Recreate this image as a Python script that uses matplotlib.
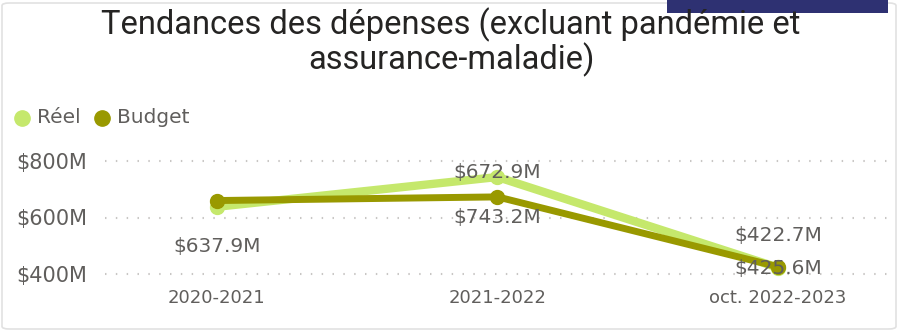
"""Tendances des dépenses — Réel vs Budget line chart."""

import matplotlib.pyplot as plt
from matplotlib.lines import Line2D
from matplotlib.patches import FancyBboxPatch, Rectangle

categories = ["2020-2021", "2021-2022", "oct. 2022-2023"]
reel = [637.9, 743.2, 422.7]
budget = [660.0, 672.9, 425.6]
y_ticks = [400, 600, 800]
y_labels = ["$400M", "$600M", "$800M"]

C_REEL = "#C5E86C"
C_BUDGET = "#999900"
C_TEXT = "#605E5C"

W, H = 902, 331
fig = plt.figure(figsize=(W / 100, H / 100), dpi=100)

# card border + dark tab in the top right corner
fig.add_artist(FancyBboxPatch((2 / W, 2 / H), 894 / W, 326 / H,
                              boxstyle="round,pad=0,rounding_size=0.008",
                              transform=fig.transFigure, fc="white",
                              ec="#E1E1E1", lw=1.2, zorder=-10))
fig.add_artist(Rectangle((667 / W, 1 - 13 / H), 221 / W, 13 / H,
                         transform=fig.transFigure, fc="#2E3172", ec="none"))

title_font = ["Liberation Sans Narrow", "Roboto", "DejaVu Sans"]
fig.text(451 / W, 1 - 25 / H, "Tendances des dépenses (excluant pandémie et",
         ha="center", va="center", fontsize=23.5, color="#252423",
         family=title_font)
fig.text(451 / W, 1 - 60 / H, "assurance-maladie)",
         ha="center", va="center", fontsize=23.5, color="#252423",
         family=title_font)

# legend
for x, c, label in [(22, C_REEL, "Réel"), (102, C_BUDGET, "Budget")]:
    fig.add_artist(Line2D([x / W], [1 - 118 / H], marker="o", markersize=11,
                          color=c, transform=fig.transFigure))
    fig.text((x + 15) / W, 1 - 118 / H, label, ha="left", va="center",
             fontsize=14.5, color=C_TEXT)

ax = fig.add_axes([105 / W, (H - 282.5) / H, 783 / W, 130 / H])
x = range(len(categories))

for yt in y_ticks:
    ax.axhline(yt, color="#C8C6C4", lw=1.5, linestyle=(0, (0.7, 4.5)), zorder=0)

ax.plot(x, reel, color=C_REEL, lw=6, marker="o", markersize=10,
        solid_capstyle="round", zorder=2)
ax.plot(x, budget, color=C_BUDGET, lw=5, marker="o", markersize=10,
        solid_capstyle="round", zorder=3)

# data labels (placed like the original report)
def label(xi, yi, val, dy_px):
    ax.annotate(f"${val:.1f}M", (xi, yi), xytext=(0, -dy_px * 0.72),
                textcoords="offset points", ha="center", va="center",
                fontsize=14.5, color=C_TEXT, zorder=4)

label(0, reel[0], reel[0], 40)
label(1, budget[1], budget[1], -24)
label(1, reel[1], reel[1], 40.5)
label(2, reel[2], reel[2], -32.5)
label(2, budget[2], budget[2], 1.5)

ax.set_xlim(-0.399, 2.392)
ax.set_ylim(370, 830)
ax.set_xticks(list(x))
ax.set_xticklabels(categories, fontsize=13, color=C_TEXT)
ax.set_yticks(y_ticks)
ax.set_yticklabels(y_labels, fontsize=15, color=C_TEXT)
ax.tick_params(length=0, axis="y", pad=13)
ax.tick_params(length=0, axis="x", pad=5)
for s in ax.spines.values():
    s.set_visible(False)
ax.patch.set_alpha(0)

fig.savefig("out.png", dpi=100)
